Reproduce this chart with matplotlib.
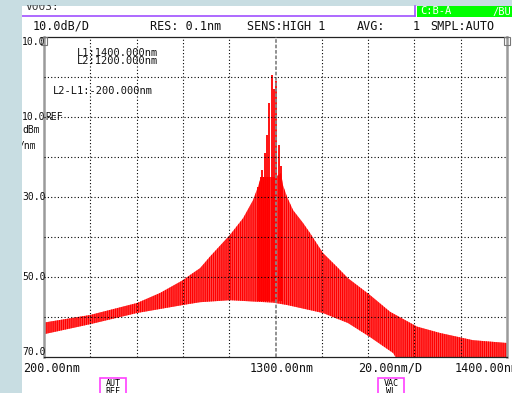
import matplotlib
matplotlib.use("Agg")
import matplotlib.pyplot as plt
import matplotlib.transforms as mtrans
from matplotlib.patches import Rectangle
from matplotlib.lines import Line2D

# --- DADOS (lidos da tela do OSA) ---
# envelope superior (topo dos modos), nm / dBm
upper_nm = [1200.0, 1219.9, 1240.2, 1250.1, 1260.0, 1263.1, 1267.4, 1271.7, 1280.3,
            1286.0, 1290.3, 1292.4, 1293.7, 1300.0, 1302.4, 1303.2, 1305.0, 1307.6,
            1311.9, 1314.9, 1320.5, 1326.6, 1331.3, 1340.8, 1349.5, 1361.1, 1371.1,
            1385.3, 1400.0]
upper_dbm = [-61.4, -59.5, -56.5, -54.0, -50.8, -49.5, -47.8, -44.9, -39.5,
             -35.3, -30.8, -27.5, -25.0, -25.0, -24.0, -27.0, -30.0, -33.3,
             -36.5, -39.0, -44.0, -47.5, -50.3, -54.5, -58.7, -62.4, -64.0,
             -65.8, -66.5]
# envelope inferior (vales entre modos)
lower_nm = [1200.0, 1219.9, 1240.2, 1260.0, 1267.4, 1280.3, 1298.9, 1305.0,
            1320.5, 1331.3, 1340.8, 1350.8, 1354.0, 1400.0]
lower_dbm = [-64.3, -61.8, -59.0, -57.0, -56.3, -55.8, -56.4, -57.0,
             -59.0, -61.5, -65.0, -69.0, -72.0, -75.0]
# modos individuais perto do pico
peak_nm = [1292.4, 1293.6, 1294.3, 1295.5, 1296.2, 1297.3, 1298.4, 1299.2,
           1300.2, 1301.4, 1302.2, 1303.0]
peak_dbm = [-27.6, -24.9, -23.3, -19.0, -14.5, -6.6, 0.5, -3.0,
            -1.1, -17.0, -22.3, -27.4]

grid_nm = [1200, 1220, 1240, 1260, 1280, 1300, 1320, 1340, 1360, 1380, 1400]
grid_dbm = [10, 0, -10, -20, -30, -40, -50, -60, -70]
ylab_dbm = [10, -10, -30, -50, -70]
ylab_txt = ["10.0", "10.0", "30.0", "50.0", "70.0"]

header = [("10.0dB/D", 33), ("RES: 0.1nm", 150), ("SENS:HIGH 1", 247),
          ("AVG:", 357), ("1", 413), ("SMPL:AUTO", 430)]
marker_txt = [("L1:1400.000nm", 77, 53), ("L2:1200.000nm", 77, 61.5),
              ("L2-L1:-200.000nm", 53, 90.5)]
bottom_labels = [("200.00nm", 23), ("1300.00nm", 250), ("20.00nm/D", 358),
                 ("1400.00nm", 455)]

# --- FIGURA ---
W, H = 512, 393
BG = "#c8dde2"
MONO = "DejaVu Sans Mono"


def fx(px):
    return px / W


def fy(py):
    return 1 - py / H


fig = plt.figure(figsize=(W / 100, H / 100), dpi=100)
fig.patch.set_facecolor(BG)

# painel branco
fig.add_artist(Rectangle((fx(22), 0), fx(W - 22), 1 - 6 / H, transform=fig.transFigure,
                         facecolor="white", edgecolor="none", zorder=0))
# caixa superior "V003:"
fig.text(fx(26), fy(12), "V003:", fontsize=8, family=MONO, va="bottom", color="#333333")
fig.add_artist(Line2D([fx(22), fx(415)], [fy(16), fy(16)], color="#a050ff", lw=1.2))
fig.add_artist(Line2D([fx(415), fx(415)], [fy(6), fy(16)], color="#a050ff", lw=1.2))
fig.add_artist(Rectangle((fx(417), fy(17)), fx(W - 417), 11 / H, transform=fig.transFigure,
                         facecolor="#00ff00", edgecolor="none", zorder=1))
fig.text(fx(420), fy(11.5), "C:B-A", fontsize=7.5, family=MONO, va="center", color="white")
fig.text(fx(492), fy(11.5), "/BU", fontsize=7.5, family=MONO, va="center", color="white")

for txt, px in header:
    fig.text(fx(px), fy(26), txt, fontsize=8.5, family=MONO, va="center", color="#111111")

# --- EIXOS ---
ax = fig.add_axes([fx(44), fy(357), fx(463), 320 / H])
ax.set_xlim(1200, 1400)
ax.set_ylim(-70, 10)
ax.set_facecolor("white")
ax.set_xticks([])
ax.set_yticks([])
for side in ("left", "right"):
    ax.spines[side].set_color("#9a9a9a")
    ax.spines[side].set_linewidth(1.8)
for side in ("top", "bottom"):
    ax.spines[side].set_color("#222222")
    ax.spines[side].set_linewidth(0.9)

for g in grid_nm[1:-1]:
    if g == 1300:
        ax.axvline(g, color="#888888", lw=1.3, ls=(0, (2, 1)), zorder=3)
    else:
        ax.axvline(g, color="black", lw=0.8, ls=(0, (1, 2)), zorder=3)
for g in grid_dbm[1:-1]:
    ax.axhline(g, color="black", lw=0.8, ls=(0, (1, 2)), zorder=3)

# espectro: area entre os envelopes, hachura vertical densa imita o pente de modos
poly_x = upper_nm + lower_nm[::-1]
poly_y = upper_dbm + lower_dbm[::-1]
ax.fill(poly_x, poly_y, facecolor="#ff6464", edgecolor="red", lw=0,
        hatch="||||||||", zorder=2)
ax.vlines(peak_nm, -56, peak_dbm, color="red", lw=1.3, zorder=2)

# textos dos marcadores
for txt, px, py in marker_txt:
    fig.text(fx(px), fy(py), txt, fontsize=7.5, family=MONO, va="center", color="#111111")
fig.text(fx(45), fy(117.5), "REF", fontsize=7, family=MONO, va="center", color="#111111")

# rotulos do eixo y (posicao pela escala do eixo)
ytr = mtrans.blended_transform_factory(fig.transFigure, ax.transData)
for val, txt in zip(ylab_dbm, ylab_txt):
    va = "top" if val == grid_dbm[0] else ("bottom" if val == grid_dbm[-1] else "center")
    fig.text(fx(22), val, txt, transform=ytr, fontsize=7, family=MONO, va=va, color="#111111")
fig.text(fx(22), fy(130), "dBm", fontsize=7, family=MONO, va="center", color="#111111")
fig.text(fx(19), fy(146), "/nm", fontsize=7, family=MONO, va="center", color="#111111")

# marcadores de canto
fig.add_artist(Rectangle((fx(41), fy(45)), 6 / W, 8 / H, transform=fig.transFigure,
                         facecolor="none", edgecolor="#777777", lw=0.8))
fig.add_artist(Rectangle((fx(504), fy(45)), 6 / W, 8 / H, transform=fig.transFigure,
                         facecolor="none", edgecolor="#777777", lw=0.8))

for txt, px in bottom_labels:
    fig.text(fx(px), fy(368), txt, fontsize=8.5, family=MONO, va="center", color="#111111")

# caixas AUT REF / VAC WL
for x0, top, bot in [(100, "AUT", "REF"), (378, "VAC", "WL")]:
    fig.add_artist(Rectangle((fx(x0), fy(396)), 26 / W, 18 / H, transform=fig.transFigure,
                             facecolor="white", edgecolor="#ff40ff", lw=1.2))
    fig.text(fx(x0 + 13), fy(383), top, fontsize=6, family=MONO, ha="center", va="center")
    fig.text(fx(x0 + 13), fy(391), bot, fontsize=6, family=MONO, ha="center", va="center")

# faixa azul da esquerda e do topo por cima (corta os textos como na tela)
fig.add_artist(Rectangle((0, 0), fx(22), 1, transform=fig.transFigure,
                         facecolor=BG, edgecolor="none", zorder=10))
fig.add_artist(Rectangle((0, fy(5)), 1, 5 / H, transform=fig.transFigure,
                         facecolor=BG, edgecolor="none", zorder=10))

fig.savefig("out.png", dpi=100, facecolor=BG)
